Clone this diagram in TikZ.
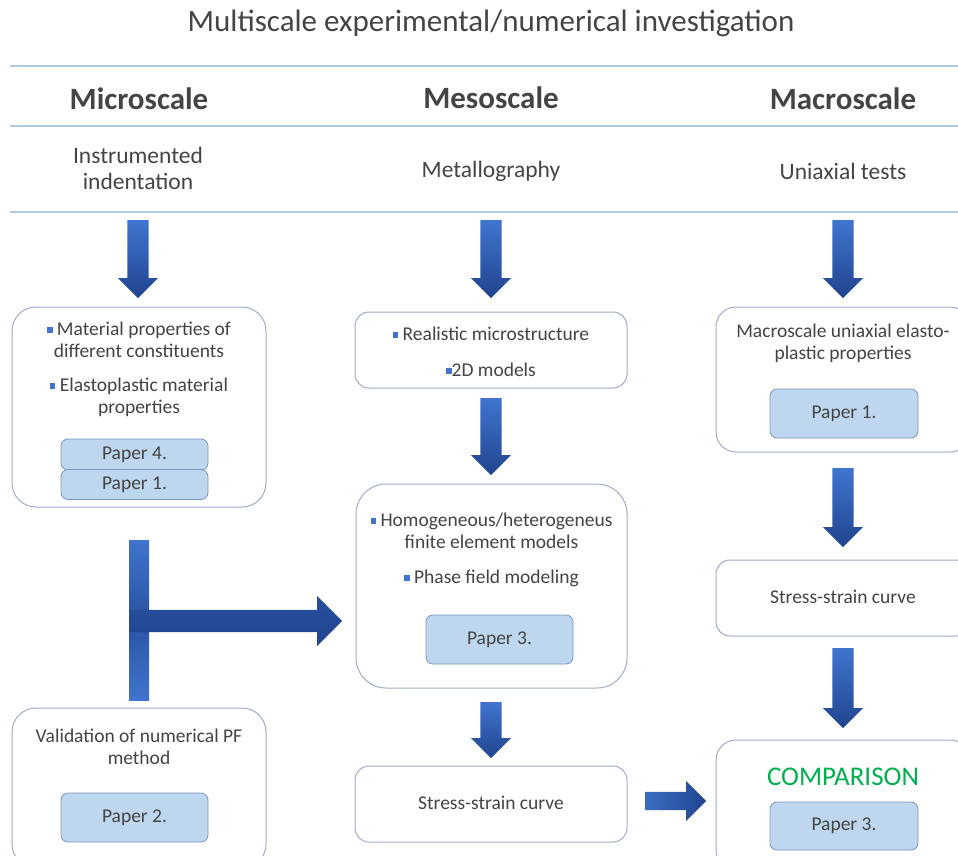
\documentclass[tikz,border=0pt]{standalone}
\usepackage{fontspec}
\setmainfont{Carlito}
\usetikzlibrary{shapes.arrows, positioning}

\definecolor{linebl}{RGB}{176,204,228}
\definecolor{boxln}{RGB}{160,172,200}
\definecolor{paperfill}{RGB}{190,214,238}
\definecolor{paperln}{RGB}{122,150,192}
\definecolor{arrtop}{RGB}{64,116,206}
\definecolor{arrbot}{RGB}{32,68,142}
\definecolor{cmpgreen}{RGB}{0,176,80}
\definecolor{txt}{RGB}{68,68,68}

\newcommand{\bul}{\textcolor{arrtop}{\rule[2.4pt]{5.5pt}{5.5pt}}}

\begin{document}
\begin{tikzpicture}[x=1pt, y=-1pt,
	box/.style={draw=boxln, line width=1pt, fill=white, rounded corners=18pt},
	paper/.style={draw=paperln, fill=paperfill, line width=0.8pt, rounded corners=7pt, text=txt, font=\fontsize{19.5}{22}\selectfont},
	boxtext/.style={text=txt, align=center, inner sep=0pt, font=\fontsize{19.5}{22}\selectfont},
	hdr/.style={text=txt, inner sep=0pt, font=\fontsize{31}{36}\selectfont\bfseries},
	subhdr/.style={text=txt, align=center, inner sep=0pt, font=\fontsize{23.5}{26}\selectfont},
	hline/.style={draw=linebl, line width=1.5pt},
	downarr/.style={single arrow, shape border rotate=270, anchor=tail, draw=none, inner sep=10.5pt, single arrow head extend=9.5pt, top color=arrtop, bottom color=arrbot},
	rightarr/.style={single arrow, anchor=tail, draw=none, left color=arrtop!85!arrbot, right color=arrbot},
]
	\useasboundingbox (0,0) rectangle (958,855);

	\node [text=txt, font=\fontsize{31}{36}\selectfont] (title) at (491,23) {Multiscale experimental/numerical investigation};

	\draw [hline] (10,66) -- (958,66);
	\draw [hline] (10,126) -- (958,126);
	\draw [hline] (10,212) -- (958,212);

	\node [hdr] (hMicro) at (139,99) {Microscale};
	\node [hdr] (hMeso) at (491,98) {Mesoscale};
	\node [hdr] (hMacro) at (843,99) {Macroscale};

	\node [subhdr] (sMicro) at (138,168) {Instrumented\\indentation};
	\node [subhdr] (sMeso) at (491,171) {Metallography};
	\node [subhdr] (sMacro) at (843,171) {Uniaxial tests};

	% microscale
	\node [downarr, minimum height=78pt] (aMicA) at (138,220) {};
	\node [box, rounded corners=24pt, minimum width=254pt, minimum height=200pt] (bMicA) at (139,407) {};
	\node [boxtext, below=15pt of bMicA.north] (tMicA) {\bul\ Material properties of\\different constituents\\[12pt]\bul\ Elastoplastic material\\properties};
	\node [paper, minimum width=147pt, minimum height=31pt] (pMicA4) at (134.5,454.5) {Paper 4.};
	\node [paper, minimum width=147pt, minimum height=30pt] (pMicA1) at (134.5,484.5) {Paper 1.};

	\node [box, rounded corners=24pt, minimum width=254pt, minimum height=160pt] (bMicB) at (139,788) {};
	\node [boxtext, below=21pt of bMicB.north] (tMicB) {Validation of numerical PF\\method};
	\node [paper, minimum width=147pt, minimum height=49pt] (pMicB) at (134.5,817.5) {Paper 2.};

	\node [rectangle, draw=none, top color=arrtop, bottom color=arrtop, middle color=arrbot!70!arrtop, minimum width=20pt, minimum height=160pt, inner sep=0pt] (tBar) at (139,620) {};
	\node [single arrow, anchor=tail, draw=none, top color=arrbot!75!arrtop, bottom color=arrbot, inner sep=11pt, single arrow head extend=14pt, minimum height=213pt] (aT) at (129,621) {};

	% mesoscale
	\node [downarr, minimum height=78pt] (aMesA) at (491,220) {};
	\node [box, rounded corners=14pt, minimum width=272pt, minimum height=76pt] (bMesA) at (491,350) {};
	\node [boxtext, below=15pt of bMesA.north] (tMesA) {\bul\ Realistic microstructure\\[14pt]\bul 2D models};

	\node [downarr, minimum height=77pt] (aMesB) at (491,398) {};
	\node [box, rounded corners=30pt, minimum width=271pt, minimum height=204pt] (bMesB) at (491.5,586) {};
	\node [boxtext, below=29pt of bMesB.north] (tMesB) {\bul\ Homogeneous/heterogeneus\\finite element models\\[13pt]\bul\ Phase field modeling};
	\node [paper, minimum width=147pt, minimum height=49pt] (pMesB) at (499.5,639.5) {Paper 3.};

	\node [downarr, minimum height=56pt] (aMesC) at (491,702) {};
	\node [box, rounded corners=14pt, minimum width=272pt, minimum height=76pt] (bMesC) at (491,804) {};
	\node [boxtext] (tMesC) at (491,803) {Stress-strain curve};

	\node [rightarr, inner sep=9pt, single arrow head extend=11pt, minimum height=61pt] (aBot) at (645,801) {};

	% macroscale
	\node [downarr, minimum height=78pt] (aMacA) at (843,220) {};
	\node [box, rounded corners=20pt, minimum width=254pt, minimum height=145pt] (bMacA) at (843,379.5) {};
	\node [boxtext, below=17pt of bMacA.north] (tMacA) {Macroscale uniaxial elasto-\\plastic properties};
	\node [paper, minimum width=148pt, minimum height=49pt] (pMacA) at (844,413.5) {Paper 1.};

	\node [downarr, minimum height=79pt] (aMacB) at (843,468) {};
	\node [box, rounded corners=14pt, minimum width=254pt, minimum height=76pt] (bMacB) at (843,598) {};
	\node [boxtext] (tMacB) at (843,597) {Stress-strain curve};

	\node [downarr, minimum height=80pt] (aMacC) at (843,648) {};
	\node [box, rounded corners=20pt, minimum width=254pt, minimum height=130pt] (bMacC) at (843,805) {};
	\node [text=cmpgreen, inner sep=0pt, font=\fontsize{27}{30}\selectfont] (tCmp) at (843,777) {COMPARISON};
	\node [paper, minimum width=148pt, minimum height=48pt] (pMacC) at (844,826) {Paper 3.};
\end{tikzpicture}
\end{document}
